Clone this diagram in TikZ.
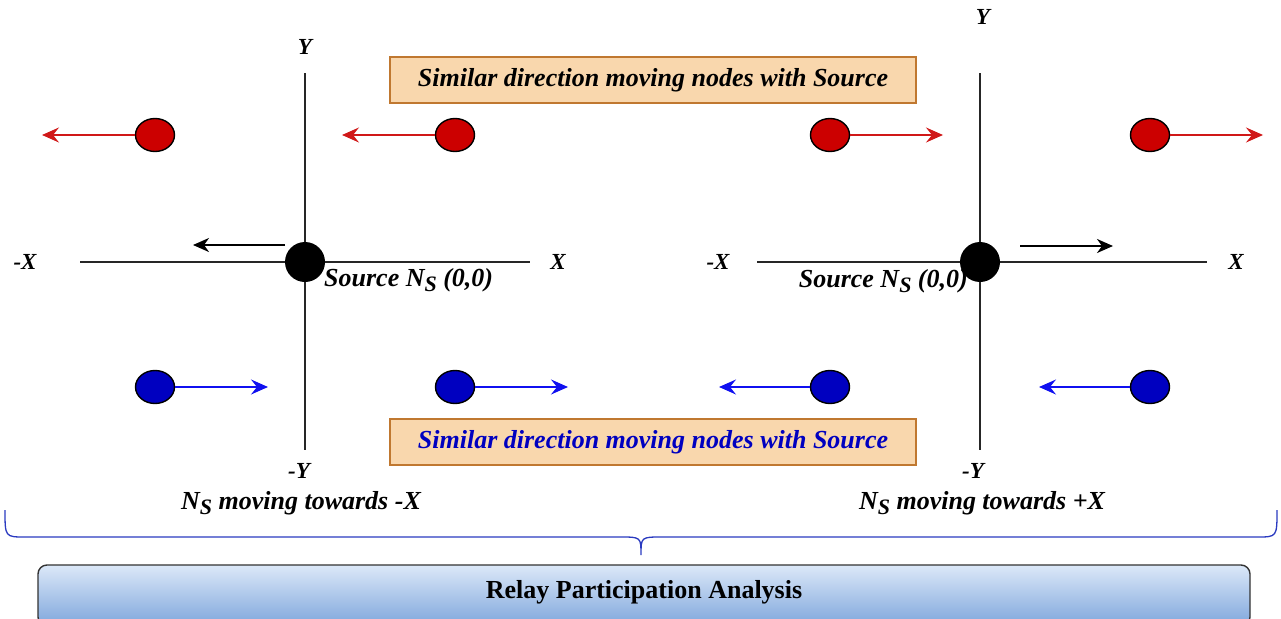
\documentclass[tikz,border=0pt]{standalone}
\usepackage{fontspec}
\setmainfont{Liberation Serif}
\usetikzlibrary{arrows.meta,shapes.geometric}

\definecolor{boxfill}{HTML}{F9D7AD}
\definecolor{boxline}{HTML}{C07830}
\definecolor{dotred}{HTML}{CC0000}
\definecolor{dotblue}{HTML}{0000C0}
\definecolor{arrred}{HTML}{D01818}
\definecolor{arrblue}{HTML}{1010F0}
\definecolor{txtblue}{HTML}{0000C0}
\definecolor{bracecol}{HTML}{2A3AC0}
\definecolor{bartop}{HTML}{DCE8F8}
\definecolor{barbot}{HTML}{7EA6DC}

\newcommand{\subS}{\raisebox{-0.45ex}{\fontsize{22}{22}\selectfont S}}

\tikzset{
  lbl/.style={font=\bfseries\itshape\fontsize{26}{30}\selectfont, inner sep=0pt},
  axlbl/.style={font=\bfseries\itshape\fontsize{23}{27}\selectfont, inner sep=0pt},
  axisline/.style={line width=1.6pt, black!85},
  rdot/.style={ellipse, draw=black, line width=1.4pt, fill=dotred,
    minimum width=39pt, minimum height=33pt, inner sep=0pt},
  bdot/.style={ellipse, draw=black, line width=1.4pt, fill=dotblue,
    minimum width=39pt, minimum height=33pt, inner sep=0pt},
  srcdot/.style={circle, fill=black, minimum size=40pt, inner sep=0pt},
  redarrow/.style={draw=arrred, line width=1.5pt,
    -{Stealth[length=17pt,width=15pt,inset=6pt]}},
  bluearrow/.style={draw=arrblue, line width=1.5pt,
    -{Stealth[length=17pt,width=15pt,inset=6pt]}},
  blkarrow/.style={draw=black, line width=2pt,
    -{Stealth[length=16pt,width=14pt,inset=5pt]}},
  notebox/.style={draw=boxline, fill=boxfill, line width=1.6pt,
    minimum width=526pt, minimum height=46pt, inner sep=0pt,
    font=\bfseries\itshape\fontsize{26}{30}\selectfont},
}

\begin{document}
\begin{tikzpicture}[x=1pt,y=-1pt]
\useasboundingbox (0,0) rectangle (1281,618);
\clip (0,0) rectangle (1281,618);

% ---------- left frame: source moving towards -X ----------
\coordinate (LyT) at (305,73);
\coordinate (LyB) at (305,450);
\coordinate (LxL) at (80,262);
\coordinate (LxR) at (530,262);
\draw[axisline] (LxL) -- (LxR);
\draw[axisline] (LyT) -- (LyB);
\node[axlbl] (LY)  at (305,47)  {Y};
\node[axlbl] (LmY) at (299,471) {-Y};
\node[axlbl] (LmX) at (25,262)  {-X};
\node[axlbl] (LX)  at (558,262) {X};
\node[srcdot] (LS) at (305,262) {};
\node[lbl, anchor=west] (LSl) at (324,280) {Source N\subS{} (0,0)};
\coordinate (LSa) at (285,245);
\coordinate (LSt) at (193,245);
\draw[blkarrow] (LSa) -- (LSt);

\node[rdot] (LR1) at (155,135) {};
\node[rdot] (LR2) at (455,135) {};
\coordinate (LR1t) at (42,135);
\coordinate (LR2t) at (342,135);
\draw[redarrow] (LR1) -- (LR1t);
\draw[redarrow] (LR2) -- (LR2t);

\node[bdot] (LB1) at (155,387) {};
\node[bdot] (LB2) at (455,387) {};
\coordinate (LB1t) at (268,387);
\coordinate (LB2t) at (568,387);
\draw[bluearrow] (LB1) -- (LB1t);
\draw[bluearrow] (LB2) -- (LB2t);

\node[lbl] (Lcap) at (301,503) {N\subS{} moving towards -X};

% ---------- right frame: source moving towards +X ----------
\coordinate (RyT) at (980,73);
\coordinate (RyB) at (980,450);
\coordinate (RxL) at (757,262);
\coordinate (RxR) at (1207,262);
\draw[axisline] (RxL) -- (RxR);
\draw[axisline] (RyT) -- (RyB);
\node[axlbl] (RY)  at (983,17)  {Y};
\node[axlbl] (RmY) at (973,471) {-Y};
\node[axlbl] (RmX) at (718,262) {-X};
\node[axlbl] (RX)  at (1236,262) {X};
\node[srcdot] (RS) at (980,262) {};
\node[lbl, anchor=east] (RSl) at (968,281) {Source N\subS{} (0,0)};
\coordinate (RSa) at (1020,246);
\coordinate (RSt) at (1113,246);
\draw[blkarrow] (RSa) -- (RSt);

\node[rdot] (RR1) at (830,135) {};
\node[rdot] (RR2) at (1150,135) {};
\coordinate (RR1t) at (943,135);
\coordinate (RR2t) at (1263,135);
\draw[redarrow] (RR1) -- (RR1t);
\draw[redarrow] (RR2) -- (RR2t);

\node[bdot] (RB1) at (830,387) {};
\node[bdot] (RB2) at (1150,387) {};
\coordinate (RB1t) at (719,387);
\coordinate (RB2t) at (1039,387);
\draw[bluearrow] (RB1) -- (RB1t);
\draw[bluearrow] (RB2) -- (RB2t);

\node[lbl] (Rcap) at (982,503) {N\subS{} moving towards +X};

% ---------- note boxes ----------
\node[notebox] (topnote) at (653,80) {Similar direction moving nodes with Source};
\node[notebox, text=txtblue] (botnote) at (653,442) {Similar direction moving nodes with Source};

% ---------- brace ----------
\draw[bracecol, line width=1.3pt]
  (5,510) .. controls (5,537) .. (25,537) -- (620,537)
  .. controls (641,537) .. (641,555)
  .. controls (641,537) .. (662,537) -- (1257,537)
  .. controls (1277,537) .. (1277,510);

% ---------- analysis bar ----------
\draw[draw=black!80, line width=1.4pt, rounded corners=9pt,
      top color=bartop, bottom color=barbot]
  (38,565) rectangle (1250,626);
\node[font=\bfseries\fontsize{26}{30}\selectfont] (bar) at (644,592) {Relay Participation Analysis};
\end{tikzpicture}
\end{document}
